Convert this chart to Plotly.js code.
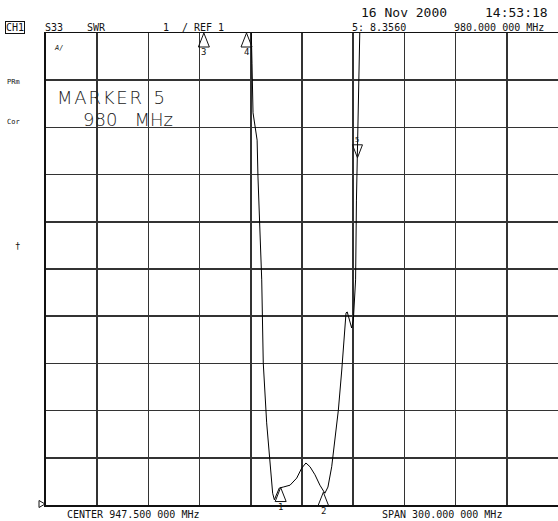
<!DOCTYPE html>
<html>
<head>
<meta charset="utf-8">
<script src="https://cdn.plot.ly/plotly-3.0.1.min.js"></script>
<style>html,body{margin:0;padding:0;background:#fff;}#chart{width:558px;height:521px;}</style>
</head>
<body>
<div id="chart"></div>
<script>
// ---- data ----
const centerMHz = 947.5;
const spanMHz = 300;
const refValue = 1;          // SWR at reference (bottom) line
const scalePerDiv = 1;       // SWR / div
const freqMHz = [905, 917.4, 918.2, 918.8, 921.2, 921.7, 923.9, 924.8, 926.8, 928.8, 930.3, 931.3, 932.7, 934.2, 936.5, 940.5, 944.4, 947.3, 949.8, 952.2, 955.1, 958.0, 960.9, 962.7, 964.9, 966.8, 968.8, 970.8, 972.3, 973.3, 974.0, 975.2, 976.6, 977.6, 978.1, 978.9, 979.4, 980.0, 980.6, 981.5, 983, 995];
const swr     = [20,  11.6,  10.36, 9.31,  8.73,  7.95,  5.77,  4.01,  2.74,  1.81,  1.25,  1.11,  1.25,  1.36,  1.38,  1.42,  1.57,  1.78,  1.89,  1.81,  1.64,  1.42,  1.25,  1.38,  1.81,  2.38,  3.01,  3.86,  4.71,  5.07,  5.09,  4.92,  4.75,  4.92,  5.34,  5.77,  7.46,  8.356, 9.16,  11.0,  14,  20];
const markerLabels = ["1", "2", "3", "4", "5"];
const markerFreq   = [935, 960, 890, 915, 980];
const markerValue  = [1.37, 1.27, 11, 11, 8.356];   // 3 and 4 are off-scale (shown at top)
const markerPointsUp = [true, true, true, true, false];
const headerDate = "16 Nov 2000";
const headerTime = "14:53:18";
const activeMarkerText = ["M\u200aA\u200aR\u200aK\u200aE\u200aR\u00a0\u00a05", "980\u00a0\u00a0\u00a0MHz"];
const markerReadout = ["5: 8.3560", "980.000 000 MHz"];
const channelTexts = ["S33", "SWR", "1", "/ REF 1"];
const bottomTexts = ["CENTER 947.500 000 MHz", "SPAN 300.000 000 MHz"];
const sideTexts = ["PRm", "Cor", "\u2020"];

// ---- layout helpers ----
const W = 558, H = 521, ML = 46, MR = 0, MT = 33, MB = 16;
const PW = W - ML - MR, PH = H - MT - MB;
const px = x => (x - ML) / PW;
const py = y => (H - MB - y) / PH;
const mono = "DejaVu Sans Mono, monospace";
const yRange = [refValue, refValue + 10 * scalePerDiv];

function txt(text, x, y, size, opts) {
  return Object.assign({
    text: text, xref: 'paper', yref: 'paper', x: px(x), y: py(y),
    xanchor: 'left', yanchor: 'middle', showarrow: false,
    font: {family: mono, size: size, color: '#111'}
  }, opts || {});
}
const bigFont = {family: "DejaVu Sans", size: 18, color: '#222', weight: 200};

const annotations = [
  txt("CH1", 5, 27, 10, {bordercolor: '#111', borderwidth: 1, borderpad: 0}),
  txt(channelTexts[0], 43, 27, 10),
  txt(channelTexts[1], 85, 27, 10),
  txt(channelTexts[2], 161, 27, 10),
  txt(channelTexts[3], 180, 27, 10),
  txt(headerDate, 359, 13, 13),
  txt(headerTime, 550, 13, 13, {xanchor: 'right'}),
  txt(markerReadout[0], 350, 27, 10),
  txt(markerReadout[1], 546, 27, 10, {xanchor: 'right'}),
  txt(sideTexts[0], 5, 82, 7),
  txt(sideTexts[1], 5, 122, 7),
  txt(sideTexts[2], 13, 246, 9),
  txt("A/", 52, 48, 7, {font: {family: mono, size: 7, color: '#111', style: 'italic'}}),
  txt(activeMarkerText[0], 56, 98, 18, {font: bigFont, borderpad: 0}),
  txt(activeMarkerText[1], 82, 119.5, 18, {font: bigFont, borderpad: 0}),
  txt(bottomTexts[0], 65, 514, 10),
  txt(bottomTexts[1], 380, 514, 10)
];

const shapes = [];
markerFreq.forEach((f, i) => {
  const up = markerPointsUp[i];
  shapes.push({
    type: 'path', xref: 'x', yref: 'y', xsizemode: 'pixel', ysizemode: 'pixel',
    xanchor: f, yanchor: markerValue[i],
    path: up ? 'M0,0 L-5.5,-14 L5.5,-14 Z' : 'M0,0 L-5,13 L5,13 Z',
    line: {color: '#111', width: 1}, fillcolor: 'rgba(0,0,0,0)'
  });
  annotations.push({
    text: markerLabels[i], xref: 'x', yref: 'y', x: f, y: markerValue[i],
    yshift: up ? -19 : 18, showarrow: false, xanchor: 'center', yanchor: 'middle',
    font: {family: mono, size: up ? 9 : 7, color: '#111'}
  });
});
// reference-position indicator on the left edge (paper coords so it is not clipped)
shapes.push({
  type: 'path', xref: 'paper', yref: 'paper', xsizemode: 'pixel', ysizemode: 'pixel',
  xanchor: 0, yanchor: (refValue - yRange[0]) / (yRange[1] - yRange[0]),
  path: 'M-1,1 L-7,4.5 L-7,-2.5 Z',
  line: {color: '#111', width: 1}, fillcolor: 'rgba(0,0,0,0)'
});

const trace = {
  x: freqMHz, y: swr, type: 'scatter', mode: 'lines',
  line: {color: '#000', width: 1}, hoverinfo: 'skip'
};

const layout = {
  width: W, height: H,
  margin: {l: ML, r: MR, t: MT, b: MB, pad: 0},
  paper_bgcolor: '#fff', plot_bgcolor: '#fff',
  showlegend: false,
  xaxis: {
    range: [centerMHz - spanMHz / 2, centerMHz + spanMHz / 2],
    tick0: centerMHz - spanMHz / 2, dtick: spanMHz / 10,
    showticklabels: false, ticks: '', zeroline: false,
    showgrid: true, gridcolor: '#333', gridwidth: 1.5,
    showline: true, linecolor: '#111', linewidth: 1.5, mirror: true
  },
  yaxis: {
    range: yRange,
    tick0: refValue, dtick: scalePerDiv,
    showticklabels: false, ticks: '', zeroline: false,
    showgrid: true, gridcolor: '#333', gridwidth: 1.5,
    showline: true, linecolor: '#111', linewidth: 2, mirror: true
  },
  shapes: shapes,
  annotations: annotations
};

Plotly.newPlot('chart', [trace], layout, {staticPlot: true, displayModeBar: false});
</script>
</body>
</html>
